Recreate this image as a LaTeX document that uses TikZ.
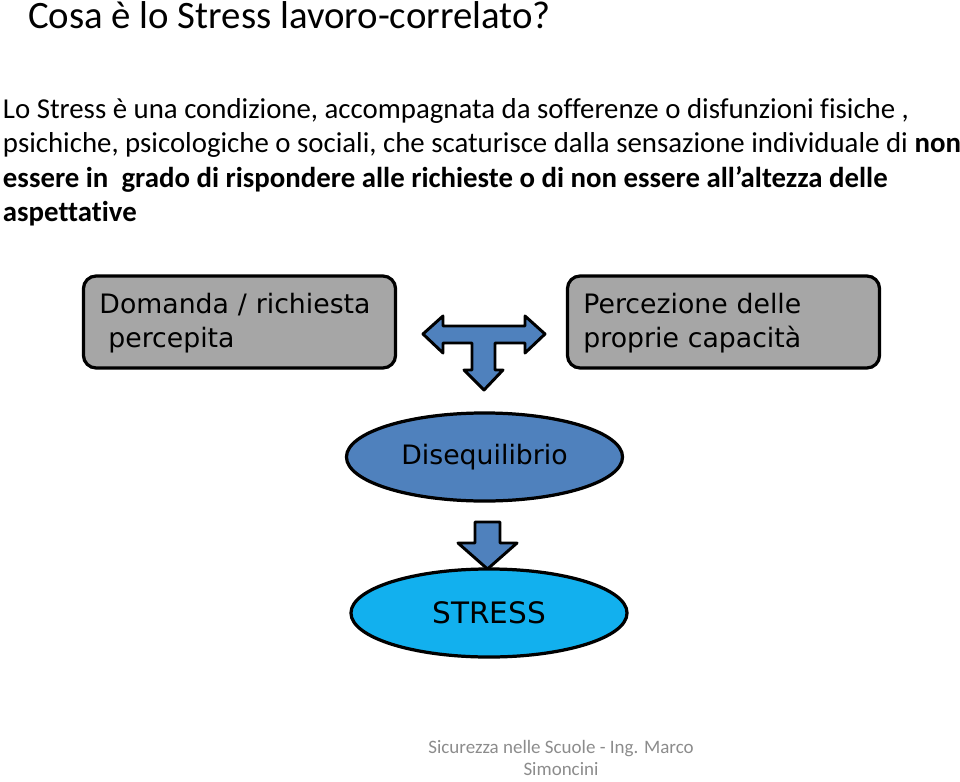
\documentclass[tikz,border=0pt]{standalone}
\usepackage{fontspec}
\setmainfont{Carlito}[Ligatures={NoCommon}]
\newfontfamily\comicfont{DejaVu Sans}
\usetikzlibrary{shapes.geometric}

\definecolor{slideblue}{HTML}{4F81BD}
\definecolor{stresscyan}{HTML}{12B0EE}
\definecolor{boxgray}{HTML}{A6A6A6}
\definecolor{footgray}{HTML}{8C8C8C}

\begin{document}
\begin{tikzpicture}[x=0.025cm, y=-0.025cm,
  every node/.style={inner sep=0pt, outer sep=0pt},
  factorbox/.style={draw, line width=2.3pt, rounded corners=9pt, fill=boxgray,
    minimum width=7.8cm, minimum height=2.3cm, text width=7.0cm, align=left,
    font=\comicfont\fontsize{19}{24}\selectfont},
  stateball/.style={ellipse, draw, line width=2.3pt, minimum width=6.9cm,
    minimum height=2.2cm, font=\comicfont\fontsize{19}{22}\selectfont},
  blockarrow/.style={draw, fill=slideblue, line width=2.1pt, line join=round}]

\useasboundingbox (0,0) rectangle (960,782);

% Title
\node[anchor=base west] (title) at (28,29)
    {\fontsize{27.6}{33}\selectfont Cosa è lo Stress lavoro-correlato?};

% Definition
\node[anchor=base west] (line1) at (3,118)
    {\fontsize{20.5}{24}\selectfont Lo Stress è una condizione, accompagnata da sofferenze o disfunzioni fisiche ,};
\node[anchor=base west] (line2) at (3,152)
    {\fontsize{20.5}{24}\selectfont psichiche, psicologiche o sociali, che scaturisce dalla sensazione individuale di \textbf{non}};
\node[anchor=base west] (line3) at (3,187)
    {\fontsize{20.5}{24}\selectfont\bfseries essere in\ \ grado di rispondere alle richieste o di non essere all’altezza delle};
\node[anchor=base west] (line4) at (3,221)
    {\fontsize{20.5}{24}\selectfont\bfseries aspettative};

% Factors
\node[factorbox] (demand) at (239.5,322) {\rule{0pt}{16pt}Domanda / richiesta\\\ percepita};
\node[factorbox] (ability) at (723.5,322) {\rule{0pt}{16pt}Percezione delle\\proprie capacità};

% T arrow between the factors
\draw[blockarrow] (423,334) -- (443,316) -- (443,326) -- (525,326) -- (525,316)
    -- (545,334) -- (525,353) -- (525,343) -- (495,343) -- (495,370) -- (503,370)
    -- (484,390) -- (464,370) -- (472,370) -- (472,343) -- (443,343) -- (443,353) -- cycle;

% Outcome
\node[stateball, fill=slideblue] (imbalance) at (484.5,457) {Disequilibrio};
\draw[blockarrow] (475,522) -- (500,522) -- (500,543) -- (517,543) -- (487.5,569)
    -- (458,543) -- (475,543) -- cycle;
\node[stateball, fill=stresscyan, font=\comicfont\fontsize{21}{24}\selectfont] (stress) at (489,613) {STRESS};

% Footer
\node[align=center, text=footgray, font=\fontsize{13.5}{16}\selectfont] (footer) at (561,758)
    {Sicurezza nelle Scuole - Ing. Marco\\Simoncini};

\end{tikzpicture}
\end{document}
